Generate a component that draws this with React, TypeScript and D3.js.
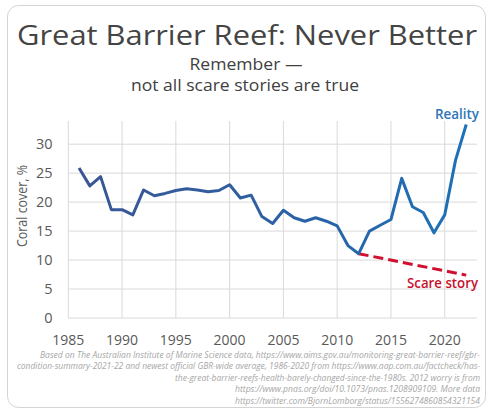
import React from "react";
import * as d3 from "d3";

const years = [1986,1987,1988,1989,1990,1991,1992,1993,1994,1995,1996,1997,1998,1999,2000,2001,2002,2003,2004,2005,2006,2007,2008,2009,2010,2011,2012,2013,2014,2015,2016,2017,2018,2019,2020,2021,2022];
const cover = [25.9,22.8,24.4,18.7,18.7,17.8,22.1,21.1,21.5,22.0,22.3,22.1,21.8,22.0,23.0,20.7,21.2,17.5,16.3,18.6,17.3,16.7,17.3,16.7,15.9,12.5,11.1,15.0,16.0,17.0,24.1,19.2,18.2,14.7,17.8,27.2,33.4];
const scareYears = [2012, 2022];
const scareValues = [11.1, 7.4];
const xTicks = [1985,1990,1995,2000,2005,2010,2015,2020];
const yTicks = [0,5,10,15,20,25,30];
const title = "Great Barrier Reef: Never Better";
const subtitle = ["Remember —", "not all scare stories are true"];
const yLabel = "Coral cover, %";
const footnote = [
  "Based on The Australian Institute of Marine Science data, https://www.aims.gov.au/monitoring-great-barrier-reef/gbr-",
  "condition-summary-2021-22 and newest official GBR-wide average, 1986-2020 from https://www.aap.com.au/factcheck/has-",
  "the-great-barrier-reefs-health-barely-changed-since-the-1980s. 2012 worry is from",
  "https://www.pnas.org/doi/10.1073/pnas.1208909109. More data",
  "https://twitter.com/BjornLomborg/status/1556274860854321154",
];
const footWidths = [440, 463, 305, 245, 245];

const W = 495, H = 412;
const FONT = "'Open Sans', 'Noto Sans', sans-serif";

export default function App() {
  const x = d3.scaleLinear().domain([1985, 2023]).range([68.3, 477]);
  const y = d3.scaleLinear().domain([0, 34]).range([318, 121]);
  const line = d3.line<[number, number]>().x(d => x(d[0])).y(d => y(d[1]));
  const realPath = line(years.map((yr, i) => [yr, cover[i]] as [number, number])) || "";
  const scarePath = line(scareYears.map((yr, i) => [yr, scareValues[i]] as [number, number])) || "";
  const tickColor = "#595959";
  return (
    <svg width={W} height={H} style={{ position: "absolute", left: 0, top: 0, background: "#fff" }} fontFamily={FONT}>
      <defs>
        <linearGradient id="lg" gradientUnits="userSpaceOnUse" x1={x(1986)} x2={x(2022)} y1={0} y2={0}>
          <stop offset="0" stopColor="#3A5694" />
          <stop offset="0.6" stopColor="#2A62A6" />
          <stop offset="1" stopColor="#1C72B8" />
        </linearGradient>
      </defs>
      <rect x={7.5} y={5.5} width={478} height={402} rx={11} fill="#fff" stroke="#d4d4d4" strokeWidth={1} />
      <text x={247} y={45} textAnchor="middle" fontSize={28} fill="#444" textLength={460} lengthAdjust="spacingAndGlyphs">{title}</text>
      <text x={246} y={70} textAnchor="middle" fontSize={17} fill="#404040" textLength={113} lengthAdjust="spacingAndGlyphs">{subtitle[0]}</text>
      <text x={245} y={91} textAnchor="middle" fontSize={17} fill="#404040" textLength={228} lengthAdjust="spacingAndGlyphs">{subtitle[1]}</text>

      <g>
        {yTicks.map(t => (
          <line key={"h" + t} x1={x(1985)} x2={x(2023)} y1={y(t)} y2={y(t)} stroke="#d9d9d9" strokeWidth={1} />
        ))}
        {xTicks.map(t => (
          <line key={"v" + t} x1={x(t)} x2={x(t)} y1={y(34)} y2={y(0)} stroke="#d9d9d9" strokeWidth={1} />
        ))}
      </g>
      {yTicks.map(t => (
        <text key={"yt" + t} x={52.5} y={y(t) + 5} textAnchor="end" fontSize={14.5} fill={tickColor}>{t}</text>
      ))}
      {xTicks.map(t => (
        <text key={"xt" + t} x={x(t)} y={344.5} textAnchor="middle" fontSize={14} fill={tickColor}>{t}</text>
      ))}
      <text transform={`translate(26.5,${206}) rotate(-90)`} textAnchor="middle" fontSize={14} fill={tickColor} textLength={82} lengthAdjust="spacingAndGlyphs">{yLabel}</text>

      <path d={scarePath} fill="none" stroke="#D0102E" strokeWidth={3} strokeDasharray="10,5" />
      <path d={realPath} fill="none" stroke="url(#lg)" strokeWidth={3} strokeLinejoin="round" />

      <text x={479} y={119} textAnchor="end" fontSize={15} fontWeight={600} fill="#2E75B6" textLength={44} lengthAdjust="spacingAndGlyphs">Reality</text>
      <text x={478} y={288} textAnchor="end" fontSize={15} fontWeight={600} fill="#C8102E" textLength={71} lengthAdjust="spacingAndGlyphs">Scare story</text>

      {footnote.map((s, i) => (
        <text key={"f" + i} x={480} y={357.5 + i * 11.5} textAnchor="end" fontSize={8.4} fontStyle="italic" fill="#a6a6a6" textLength={footWidths[i]} lengthAdjust="spacingAndGlyphs">{s}</text>
      ))}
    </svg>
  );
}
